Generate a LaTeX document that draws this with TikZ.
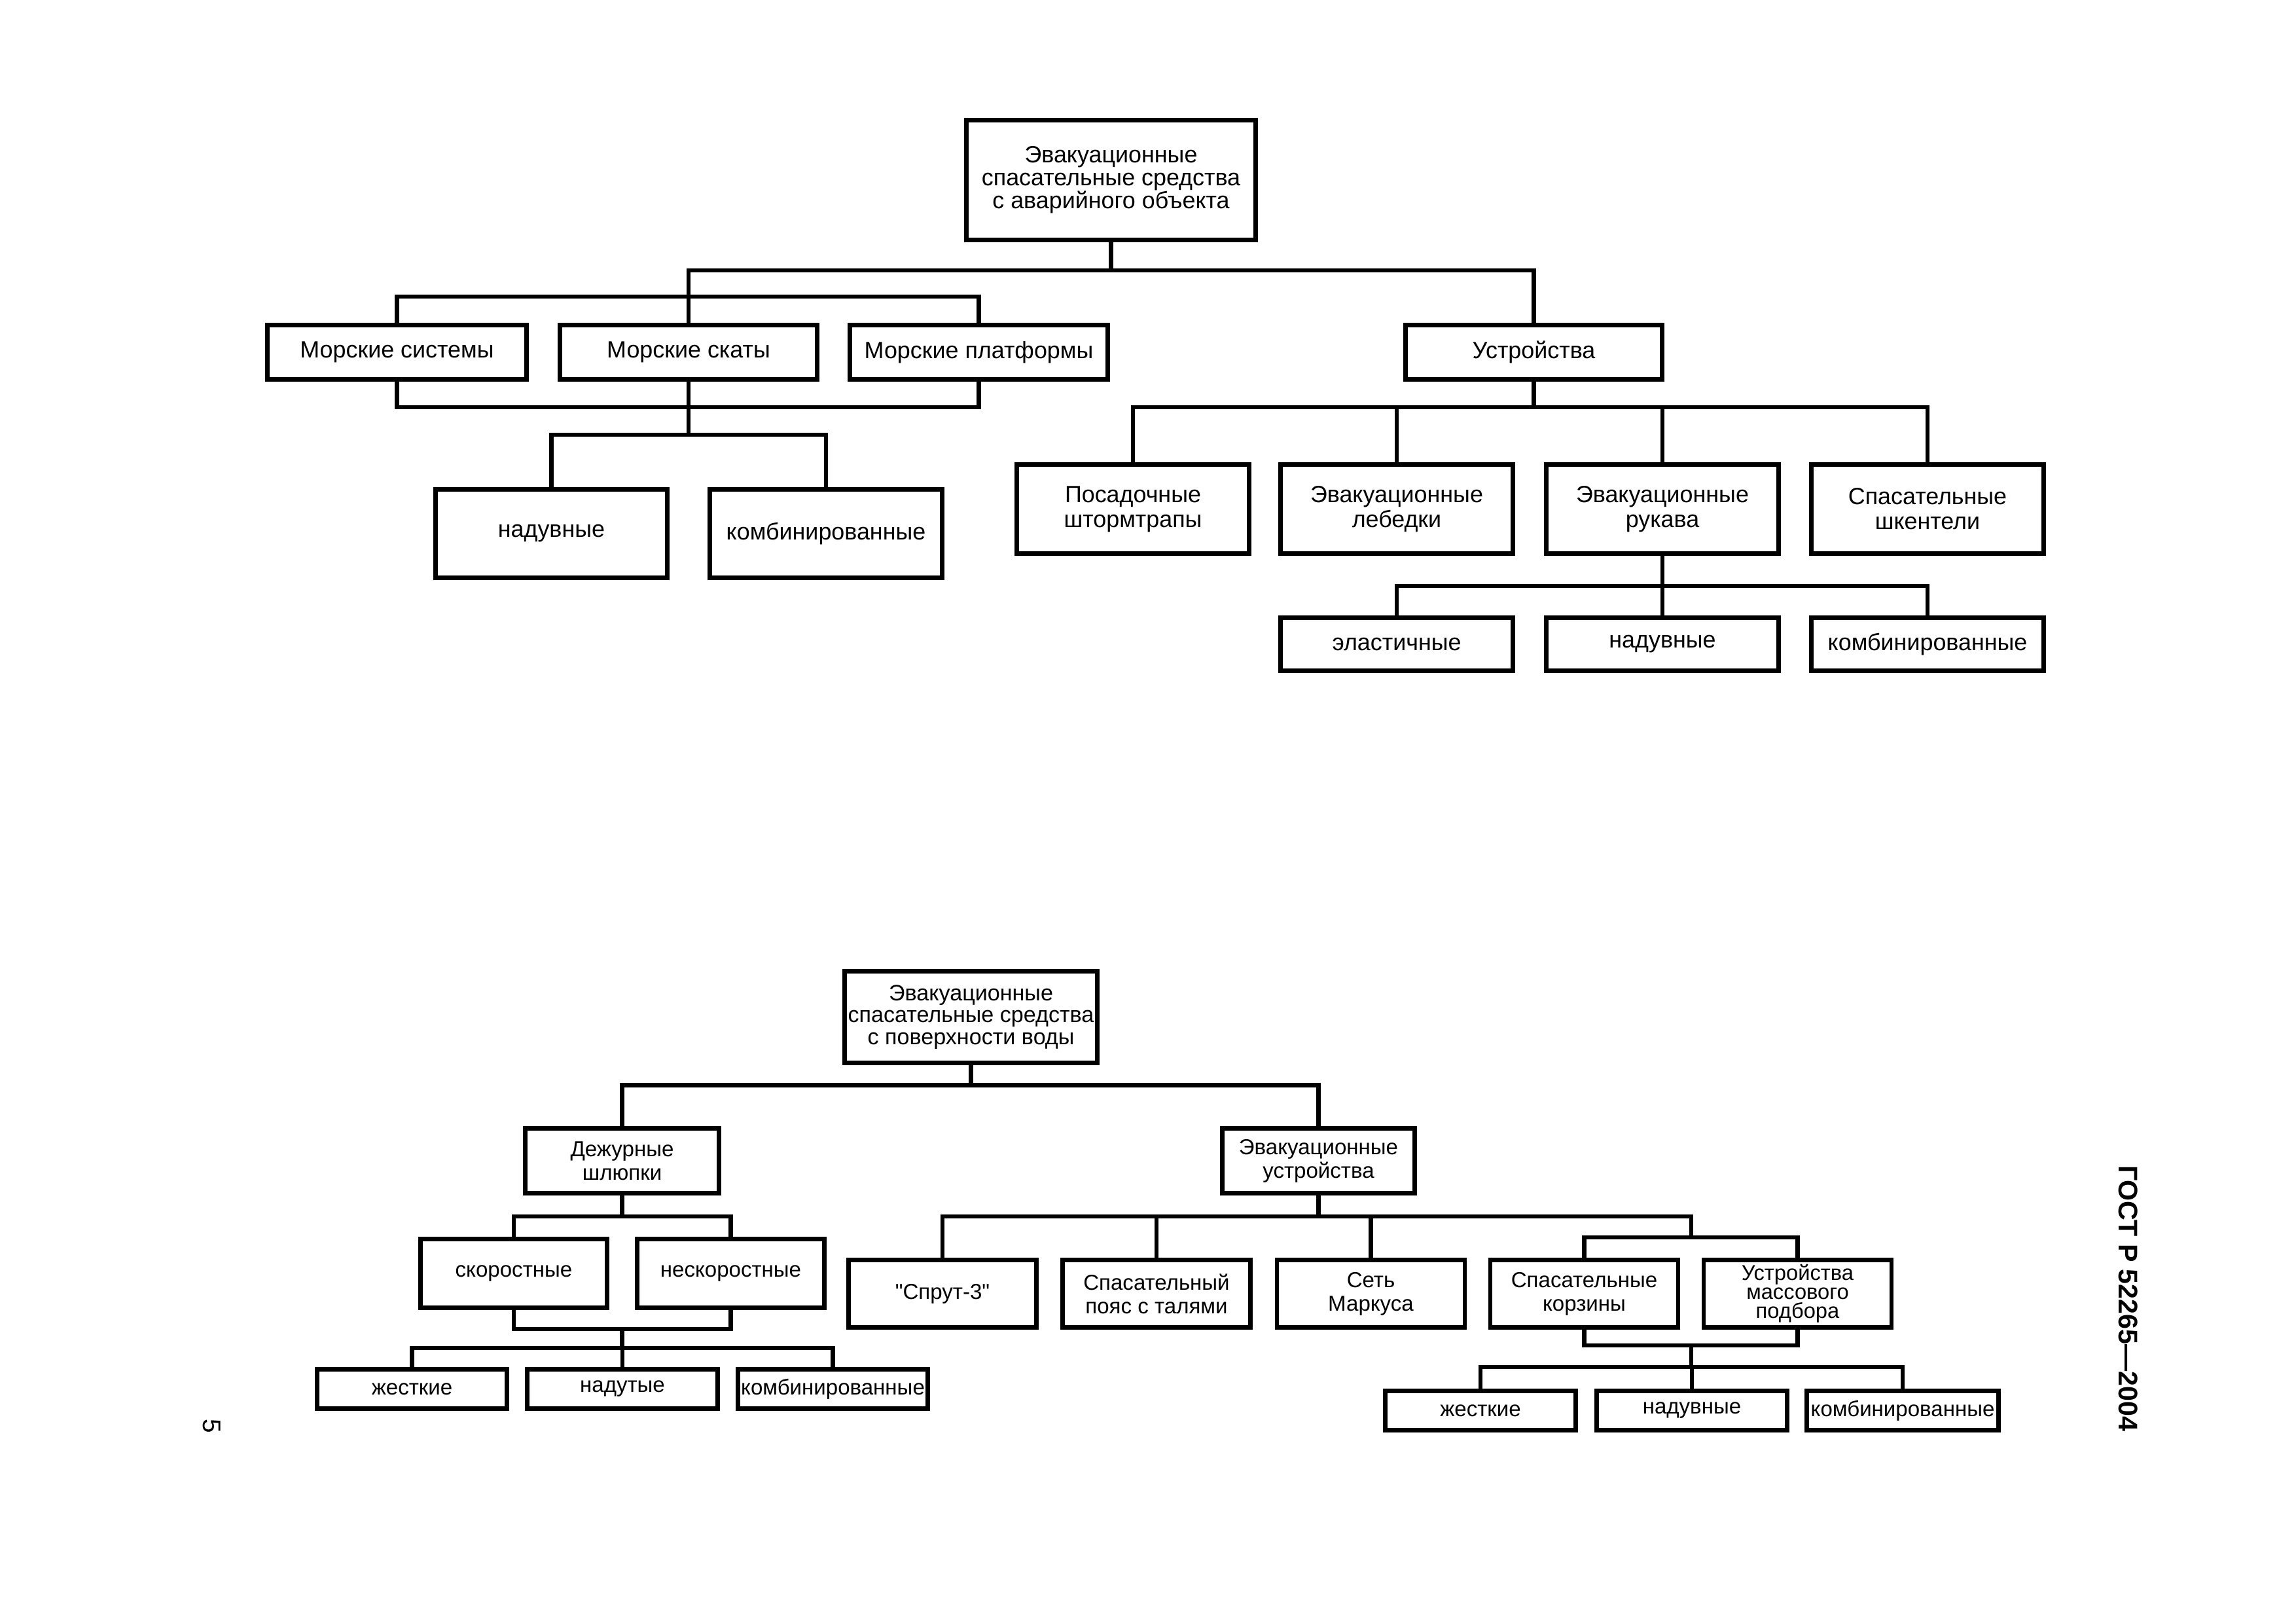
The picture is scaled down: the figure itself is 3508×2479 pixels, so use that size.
\documentclass[tikz,border=0pt]{standalone}
\usepackage{fontspec}
\setmainfont{Liberation Sans}[Ligatures=TeXOff]
\begin{document}
\begin{tikzpicture}[x=0.01cm,y=-0.01cm,
  bx/.style={draw, line width=1.85pt, inner sep=0pt, align=center},
  cn/.style={line width=1.85pt, line join=miter},
  tRootA/.style={font=\fontsize{10.2}{9.9}\selectfont},
  tTop/.style={font=\fontsize{10.2}{10.8}\selectfont},
  tRootB/.style={font=\fontsize{9.7}{9.6}\selectfont},
  tBot/.style={font=\fontsize{9.4}{10.2}\selectfont},
  tSmall/.style={font=\fontsize{9.3}{8.2}\selectfont},
  rowA/.style={bx, tTop, minimum height=0.83cm},
  rowB/.style={bx, tTop, minimum width=3.55cm, minimum height=1.36cm},
  rowC/.style={bx, tTop, minimum width=3.55cm, minimum height=0.81cm},
  rowD/.style={bx, tBot, minimum width=2.87cm, minimum height=1.03cm},
  rowE/.style={bx, tBot, minimum height=0.60cm}
]
\fill[white] (0,0) rectangle (3508,2479);
\useasboundingbox (0,0) rectangle (3508,2479);

% ---------------- upper chart ----------------
\node[bx, tRootA, minimum width=4.42cm, minimum height=1.83cm] (r1) at (1697.5,275)
  {Эвакуационные\\спасательные средства\\с аварийного объекта};
\node[rowA, minimum width=3.96cm] (ms)  at (606.5,538)  {Морские системы};
\node[rowA, minimum width=3.93cm] (msk) at (1052,538)   {Морские скаты};
\node[rowA, minimum width=3.94cm] (mp)  at (1495.5,538) {Морские платформы};
\node[rowA, minimum width=3.92cm] (ust) at (2343.5,538) {Устройства};
\node[bx, tTop, minimum width=3.54cm, minimum height=1.35cm] (nad1)  at (842.5,815) {надувные};
\node[bx, tTop, minimum width=3.55cm, minimum height=1.35cm] (komb1) at (1262,815)  {комбинированные};
\node[rowB] (pos) at (1731,777.5) {Посадочные\\штормтрапы};
\node[rowB] (leb) at (2134,777.5) {Эвакуационные\\лебедки};
\node[rowB] (ruk) at (2540,777.5) {Эвакуационные\\рукава};
\node[rowB] (shk) at (2945,777.5) {Спасательные\\шкентели};
\node[rowC] (el)  at (2134,984) {эластичные};
\node[rowC] (nd2) at (2540,984) {надувные};
\node[rowC] (km2) at (2945,984) {комбинированные};

\coordinate (yA) at (0,413);
\coordinate (yB) at (0,453);
\coordinate (yC) at (0,622);
\coordinate (yD) at (0,664);
\coordinate (yE) at (0,895);

\draw[cn] (r1.south) -- (r1.south |- yA);
\draw[cn] (msk.north) -- (msk.north |- yA) -| (ust.north);
\draw[cn] (ms.north) -- (ms.north |- yB) -| (mp.north);
\draw[cn] (ms.south) -- (ms.south |- yC) -| (mp.south);
\draw[cn] (msk.south) -- (msk.south |- yD);
\draw[cn] (nad1.north) -- (nad1.north |- yD) -| (komb1.north);
\draw[cn] (ust.south) -- (ust.south |- yC);
\draw[cn] (pos.north) -- (pos.north |- yC) -| (shk.north);
\draw[cn] (leb.north) -- (leb.north |- yC);
\draw[cn] (ruk.north) -- (ruk.north |- yC);
\draw[cn] (ruk.south) -- (ruk.south |- yE);
\draw[cn] (el.north) -- (el.north |- yE) -| (km2.north);
\draw[cn] (nd2.north) -- (nd2.north |- yE);

% ---------------- lower chart ----------------
\node[bx, tRootB, minimum width=3.86cm, minimum height=1.40cm] (r2) at (1483.5,1553.5)
  {Эвакуационные\\спасательные средства\\с поверхности воды};
\node[bx, tBot, minimum width=2.96cm, minimum height=0.99cm] (dsh) at (950.5,1773) {Дежурные\\шлюпки};
\node[bx, tBot, minimum width=2.94cm, minimum height=0.99cm] (eu)  at (2014.5,1773) {Эвакуационные\\устройства};
\node[bx, tBot, minimum width=2.85cm, minimum height=1.05cm] (sk)  at (785,1945) {скоростные};
\node[bx, tBot, minimum width=2.86cm, minimum height=1.05cm] (nsk) at (1116.5,1945) {нескоростные};
\node[rowE, minimum width=2.90cm] (zh1) at (629.5,2121.5)  {жесткие};
\node[rowE, minimum width=2.91cm] (nt)  at (951,2121.5)    {надутые};
\node[rowE, minimum width=2.90cm] (km3) at (1272.5,2121.5) {комбинированные};
\node[rowD] (spr)   at (1440,1976)   {"Спрут-3"};
\node[rowD] (poyas) at (1767,1976)   {Спасательный\\пояс с талями};
\node[rowD] (set)   at (2094.5,1976) {Сеть\\Маркуса};
\node[rowD] (korz)  at (2420.5,1976) {Спасательные\\корзины};
\node[rowD, tSmall] (pod) at (2746.5,1976) {Устройства\\массового\\подбора};
\node[rowE, minimum width=2.91cm] (zh2) at (2262,2154.5) {жесткие};
\node[rowE, minimum width=2.91cm] (nd4) at (2585,2154.5) {надувные};
\node[rowE, minimum width=2.93cm] (km4) at (2907,2154.5) {комбинированные};

\coordinate (yF) at (0,1657.5);
\coordinate (yG) at (0,1858);
\coordinate (yH) at (0,2030);
\coordinate (yI) at (0,2059);
\coordinate (yK) at (0,2055);
\coordinate (yL) at (0,2088);
\coordinate (kp) at (2584,1890);
\coordinate (kq) at (2584,2055);

\draw[cn] (r2.south) -- (r2.south |- yF);
\draw[cn] (dsh.north) -- (dsh.north |- yF) -| (eu.north);
\draw[cn] (dsh.south) -- (dsh.south |- yG);
\draw[cn] (sk.north) -- (sk.north |- yG) -| (nsk.north);
\draw[cn] (sk.south) -- (sk.south |- yH) -| (nsk.south);
\draw[cn] (dsh.south |- yH) -- (dsh.south |- yI);
\draw[cn] (zh1.north) -- (zh1.north |- yI) -| (km3.north);
\draw[cn] (nt.north) -- (nt.north |- yI);

\draw[cn] (eu.south) -- (eu.south |- yG);
\draw[cn] (spr.north) -- (spr.north |- yG) -| (kp);
\draw[cn] (poyas.north) -- (poyas.north |- yG);
\draw[cn] (set.north) -- (set.north |- yG);
\draw[cn] (korz.north) -- (korz.north |- kp) -| (pod.north);
\draw[cn] (korz.south) -- (korz.south |- yK) -| (pod.south);
\draw[cn] (kq) -- (kq |- yL);
\draw[cn] (zh2.north) -- (zh2.north |- yL) -| (km4.north);
\draw[cn] (nd4.north) -- (nd4.north |- yL);

% ---------------- margin texts ----------------
\node[rotate=-90, inner sep=0pt, font=\bfseries\fontsize{11.7}{14}\selectfont] (gost) at (3252,1983) {ГОСТ Р 52265—2004};
\node[rotate=-90, inner sep=0pt, font=\fontsize{11}{13}\selectfont] (pg) at (324,2178) {5};
\end{tikzpicture}
\end{document}
